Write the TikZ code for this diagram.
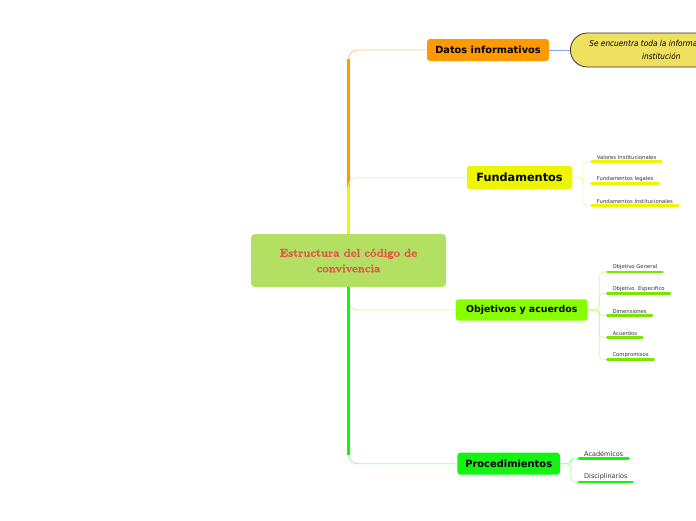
\documentclass[tikz,border=0pt]{standalone}
\usepackage{fontspec}
\usetikzlibrary{calc,positioning}
\newfontfamily\mapsans{DejaVu Sans}
\newfontfamily\mapnote{DejaVu Sans Condensed}
\newfontfamily\maproot{Latin Modern Roman}[BoldFeatures={FakeBold=1.6}]
\definecolor{rootfill}{RGB}{179,224,99}
\definecolor{roottext}{RGB}{232,80,70}
\definecolor{datosfill}{RGB}{255,153,0}
\definecolor{datoslink}{RGB}{255,205,120}
\definecolor{fundfill}{RGB}{238,245,0}
\definecolor{fundlink}{RGB}{250,250,140}
\definecolor{objfill}{RGB}{136,255,0}
\definecolor{objlink}{RGB}{200,255,140}
\definecolor{procfill}{RGB}{17,245,17}
\definecolor{proclink}{RGB}{150,255,150}
\definecolor{notefill}{RGB}{240,224,96}
\definecolor{notelink}{RGB}{130,165,240}

\begin{document}
\begin{tikzpicture}[x=1pt,y=-1pt,
  topic/.style={rounded corners=3pt, inner sep=0pt},
  leaf/.style={inner xsep=5pt, inner ysep=1.8pt, anchor=south west, text=black!80,
    font=\mapsans\fontsize{5.3}{6}\selectfont},
  trunk/.style={line width=2.2pt, rounded corners=9pt},
  twig/.style={line width=0.9pt, rounded corners=9pt},
  sprig/.style={line width=0.6pt, rounded corners=4pt},
  bar/.style={line width=2.6pt, line cap=round}]
  \fill[white] (0,0) rectangle (696,520);
  \useasboundingbox (0,0) rectangle (696,520);

  % central idea
  \node[fill=rootfill, rounded corners=4pt, minimum width=195pt, minimum height=53pt,
    align=center, text=roottext, font=\maproot\bfseries\fontsize{11.3}{15.5}\selectfont]
    (root) at (348.5,260.5) {Estructura del código de\\convivencia};

  % main topics
  \node[topic, fill=datosfill, minimum width=122pt, minimum height=22pt,
    font=\mapsans\bfseries\fontsize{9.8}{12}\selectfont] (datos) at (488,50) {Datos informativos};
  \node[topic, fill=fundfill, minimum width=105.5pt, minimum height=23.3pt,
    font=\mapsans\bfseries\fontsize{11.3}{13}\selectfont] (fund) at (519.5,177.5) {Fundamentos};
  \node[topic, fill=objfill, minimum width=132pt, minimum height=21.4pt,
    font=\mapsans\bfseries\fontsize{9.4}{12}\selectfont] (obj) at (521.7,310) {Objetivos y acuerdos};
  \node[topic, fill=procfill, minimum width=102.7pt, minimum height=22pt,
    font=\mapsans\bfseries\fontsize{9.9}{12}\selectfont] (proc) at (508.7,463.7) {Procedimientos};

  % note on Datos informativos
  \node[draw=black!80, line width=0.8pt, fill=notefill, rounded corners=17pt,
    minimum height=34pt, inner xsep=19pt, align=center, anchor=west,
    font=\mapnote\itshape\fontsize{8.2}{13}\selectfont]
    (note) at (570,50) {Se encuentra toda la información de la\\institución};
  \draw[notelink, line width=0.8pt] (datos.east) -- (note.west);

  % branches from the centre
  \draw[twig, datoslink] (root.north) |- (datos.west);
  \draw[trunk, datosfill] (root.north) -- ($(root.north |- datos.west)+(0,9)$);
  \draw[twig, fundlink] (root.north) |- (fund.west);
  \draw[trunk, fundfill] (root.north) -- ($(root.north |- fund.west)+(0,9)$);
  \draw[twig, objlink] (root.south) |- (obj.west);
  \draw[trunk, objfill] (root.south) -- ($(root.south |- obj.west)+(0,-8)$);
  \draw[twig, proclink] (root.south) |- (proc.west);
  \draw[trunk, procfill] (root.south) -- ($(root.south |- proc.west)+(0,-9)$);

  % Fundamentos
  \node[leaf] (f1) at (591.7,161.3) {Valores Institucionales};
  \node[leaf] (f2) at (591.7,183.3) {Fundamentos legales};
  \node[leaf] (f3) at (591.7,205.3) {Fundamentos Institucionales};
  \foreach \n in {f1,f2,f3} {
    \draw[sprig, fundlink] (fund.east) -- ++(10.7,0) |- (\n.south west);
    \draw[bar, fundfill] (\n.south west) -- (\n.south east);
  }

  % Objetivos y acuerdos
  \node[leaf] (o1) at (607.3,272) {Objetivo General};
  \node[leaf] (o2) at (607.3,293.3) {Objetivo\ \ Especifico};
  \node[leaf] (o3) at (607.3,315.7) {Dimensiones};
  \node[leaf] (o4) at (607.3,337.7) {Acuerdos};
  \node[leaf] (o5) at (607.3,359.3) {Compromisos};
  \foreach \n in {o1,o2,o3,o4,o5} {
    \draw[sprig, objlink] (obj.east) -- ++(11.3,0) |- (\n.south west);
    \draw[bar, objfill!90!black] (\n.south west) -- (\n.south east);
  }

  % Procedimientos
  \node[leaf, font=\mapsans\fontsize{6.5}{7}\selectfont] (p1) at (579,458.3) {Académicos};
  \node[leaf, font=\mapsans\fontsize{6.5}{7}\selectfont] (p2) at (579,482) {Disciplinarios};
  \foreach \n in {p1,p2} {
    \draw[sprig, proclink] (proc.east) -- ++(10.7,0) |- (\n.south west);
    \draw[bar, procfill] (\n.south west) -- (\n.south east);
  }
\end{tikzpicture}
\end{document}
